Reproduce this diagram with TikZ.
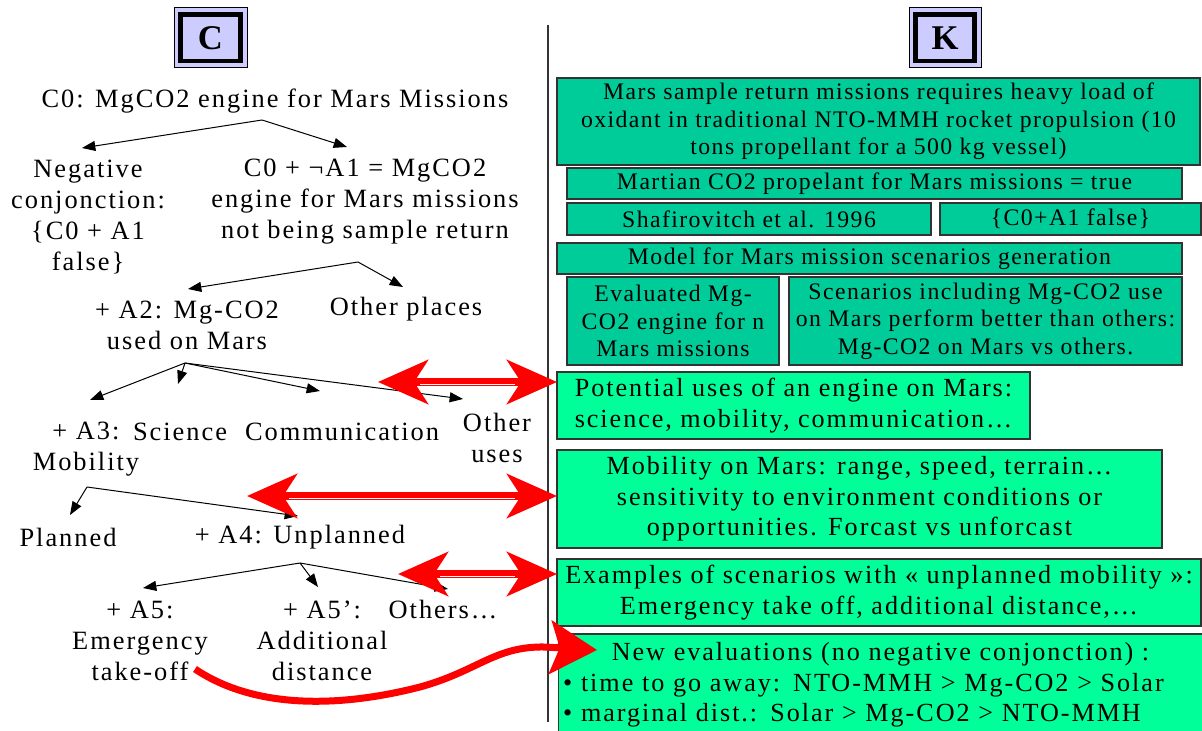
\documentclass[tikz,border=0pt]{standalone}
\usepackage{fontspec}
\setmainfont{Liberation Serif}
\newfontfamily\trf[LetterSpace=7.5]{Liberation Serif}
\newfontfamily\bxf[LetterSpace=6]{Liberation Serif}
\usetikzlibrary{arrows.meta}
\definecolor{lav}{HTML}{CCCCFF}
\definecolor{dgreen}{HTML}{00CC99}
\definecolor{lgreen}{HTML}{00FF99}
\definecolor{bord}{HTML}{333333}
\begin{document}
\begin{tikzpicture}[x=0.75pt,y=-0.75pt,
  tree/.style={font=\trf\fontsize{19.8}{23.25}\selectfont, align=center, inner sep=0pt},
  kb/.style={draw=bord, line width=1.1pt, inner sep=0pt, align=center, rectangle},
  dbox/.style={kb, fill=dgreen, font=\bxf\fontsize{17.8}{20.6}\selectfont},
  lbox/.style={kb, fill=lgreen, font=\trf\fontsize{19.6}{23}\selectfont},
  tarr/.style={-{Triangle[length=10pt,width=7.5pt]}, line width=0.75pt},
  rdarr/.style={draw=red, line width=6pt, {Stealth[length=37.5pt,width=33pt,inset=10.5pt]}-{Stealth[length=37.5pt,width=33pt,inset=10.5pt]}},
  rstripe/.style={draw=white, line width=0.8pt},
  rcurve/.style={draw=red, line width=5.25pt, -{Stealth[length=35pt,width=40pt,inset=7pt]}},
  titlebox/.style={draw=black, line width=0.75pt, fill=lav, inner sep=0pt, rectangle},
  titlein/.style={draw=black, line width=3.6pt, fill=lav, inner sep=0pt, rectangle, font=\bfseries\fontsize{26}{30}\selectfont}
]
\useasboundingbox (0,0) rectangle (1202,731);
\fill[white] (0,0) rectangle (1202,731);

% title boxes
\node[titlebox, minimum width=54.75pt, minimum height=45pt] (cout) at (210.5,38) {};
\node[titlein, minimum width=45pt, minimum height=34.9pt] (cin) at (210.5,37.75) {C};
\node[titlebox, minimum width=54pt, minimum height=45pt] (kout) at (945,38) {};
\node[titlein, minimum width=44.25pt, minimum height=34.9pt] (kin) at (945,37.75) {K};

% separator
\coordinate (vtop) at (548,25);
\coordinate (vbot) at (548,722);
\draw[line width=0.9pt, black!80] (vtop) -- (vbot);

% tree nodes
\node[tree] (c0) at (275,101) {C0: MgCO2 engine for Mars Missions};
\node[tree] (neg) at (88,217.5) {Negative\\conjonction:\\\{C0 + A1\\false\}};
\node[tree] (c0a1) at (365,202) {C0 + ¬A1 = MgCO2\\engine for Mars missions\\not being sample return};
\node[tree] (a2) at (187,325) {+ A2: Mg-CO2\\used on Mars};
\node[tree] (oth) at (406,309) {Other places};
\node[tree] (a3) at (86,449) {+ A3:\\Mobility};
\node[tree] (sci) at (180,432) {Science};
\node[tree] (com) at (342,432) {Communication};
\node[tree] (ou) at (497,438) {Other\\uses};
\node[tree] (pl) at (68,537) {Planned};
\node[tree] (un) at (300,537) {+ A4: Unplanned};
\node[tree] (a5) at (140,641) {+ A5:\\Emergency\\take-off};
\node[tree] (a5p) at (322,641) {+ A5’:\\Additional\\distance};
\node[tree] (ots) at (443,610) {Others…};

% tree connectors
\coordinate (ap0) at (262,120);
\coordinate (t0a) at (82,148);
\coordinate (t0b) at (347,147);
\draw[tarr] (ap0) -- (t0a);
\draw[tarr] (ap0) -- (t0b);
\coordinate (ap1) at (358,262);
\coordinate (t1a) at (188,289);
\coordinate (t1b) at (403,287);
\draw[tarr] (ap1) -- (t1a);
\draw[tarr] (ap1) -- (t1b);
\coordinate (ap2) at (185,363);
\coordinate (t2a) at (90,400);
\coordinate (t2b) at (178,384);
\coordinate (t2c) at (320,391);
\coordinate (t2d) at (463,399);
\draw[tarr] (ap2) -- (t2a);
\draw[tarr] (ap2) -- (t2b);
\draw[tarr] (ap2) -- (t2c);
\draw[tarr] (ap2) -- (t2d);
\coordinate (ap3) at (87,487);
\coordinate (t3a) at (70,515);
\coordinate (t3b) at (298,516);
\draw[tarr] (ap3) -- (t3a);
\draw[tarr] (ap3) -- (t3b);
\coordinate (ap4) at (300,563);
\coordinate (t4a) at (143,588);
\coordinate (t4b) at (318,587);
\coordinate (t4c) at (448,589);
\draw[tarr] (ap4) -- (t4a);
\draw[tarr] (ap4) -- (t4b);
\draw[tarr] (ap4) -- (t4c);

% knowledge boxes
\node[dbox, minimum width=482.25pt, minimum height=65.25pt] (b1) at (878.5,121.5) {Mars sample return missions requires heavy load of\\oxidant in traditional NTO-MMH rocket propulsion (10\\tons propellant for a 500 kg vessel)};
\node[dbox, minimum width=461.25pt, minimum height=23.25pt] (b2) at (874.5,183.5) {Martian CO2 propelant for Mars missions = true};
\node[dbox, minimum width=273pt, minimum height=24pt] (b3) at (749,219) {Shafirovitch et al. 1996};
\node[dbox, minimum width=195.75pt, minimum height=24pt] (b4) at (1070.5,219) {\{C0+A1 false\}};
\node[dbox, minimum width=468.75pt, minimum height=23.25pt] (b5) at (869.5,258.5) {Model for Mars mission scenarios generation};
\node[dbox, minimum width=159pt, minimum height=66pt] (b6) at (673,321) {Evaluated Mg-\\CO2 engine for n\\Mars missions};
\node[dbox, minimum width=294.75pt, minimum height=66pt] (b7) at (985.5,321) {Scenarios including Mg-CO2 use\\on Mars perform better than others:\\Mg-CO2 on Mars vs others.};
\node[lbox, minimum width=354.75pt, minimum height=50.25pt] (b8) at (793.5,405.5) {Potential uses of an engine on Mars:\\science, mobility, communication…};
\node[lbox, minimum width=453.75pt, minimum height=73.5pt] (b9) at (859.5,499) {Mobility on Mars: range, speed, terrain…\\sensitivity to environment conditions or\\opportunities. Forcast vs unforcast};
\node[lbox, minimum width=483pt, minimum height=50.25pt] (b10) at (879,592.5) {Examples of scenarios with « unplanned mobility »:\\Emergency take off, additional distance,…};
\node[lbox, minimum width=483pt, minimum height=76.5pt, text width=476pt, align=left] (b11) at (880.5,685) {\makebox[\linewidth][c]{New evaluations (no negative conjonction) :}\\• time to go away: NTO-MMH > Mg-CO2 > Solar\\• marginal dist.: Solar > Mg-CO2 > NTO-MMH};

% red double arrows
\coordinate (r1a) at (378,382);
\coordinate (r1b) at (557,382);
\draw[rdarr] (r1a) -- (r1b);
\draw[rstripe] ([shift={(42,2.5)}]r1a) -- ([shift={(-42,2.5)}]r1b);
\coordinate (r2a) at (247,496);
\coordinate (r2b) at (557,496);
\draw[rdarr] (r2a) -- (r2b);
\draw[rstripe] ([shift={(42,2.5)}]r2a) -- ([shift={(-42,2.5)}]r2b);
\coordinate (r3a) at (398,574);
\coordinate (r3b) at (557,574);
\draw[rdarr] (r3a) -- (r3b);
\draw[rstripe] ([shift={(42,2.5)}]r3a) -- ([shift={(-42,2.5)}]r3b);

% curved arrow
\coordinate (cs) at (195,669);
\coordinate (ce) at (597,650);
\draw[rcurve] (cs) .. controls (250,706) and (330,710) .. (420,687) .. controls (478,671) and (495,646) .. (545,647) -- (ce);
\end{tikzpicture}
\end{document}
